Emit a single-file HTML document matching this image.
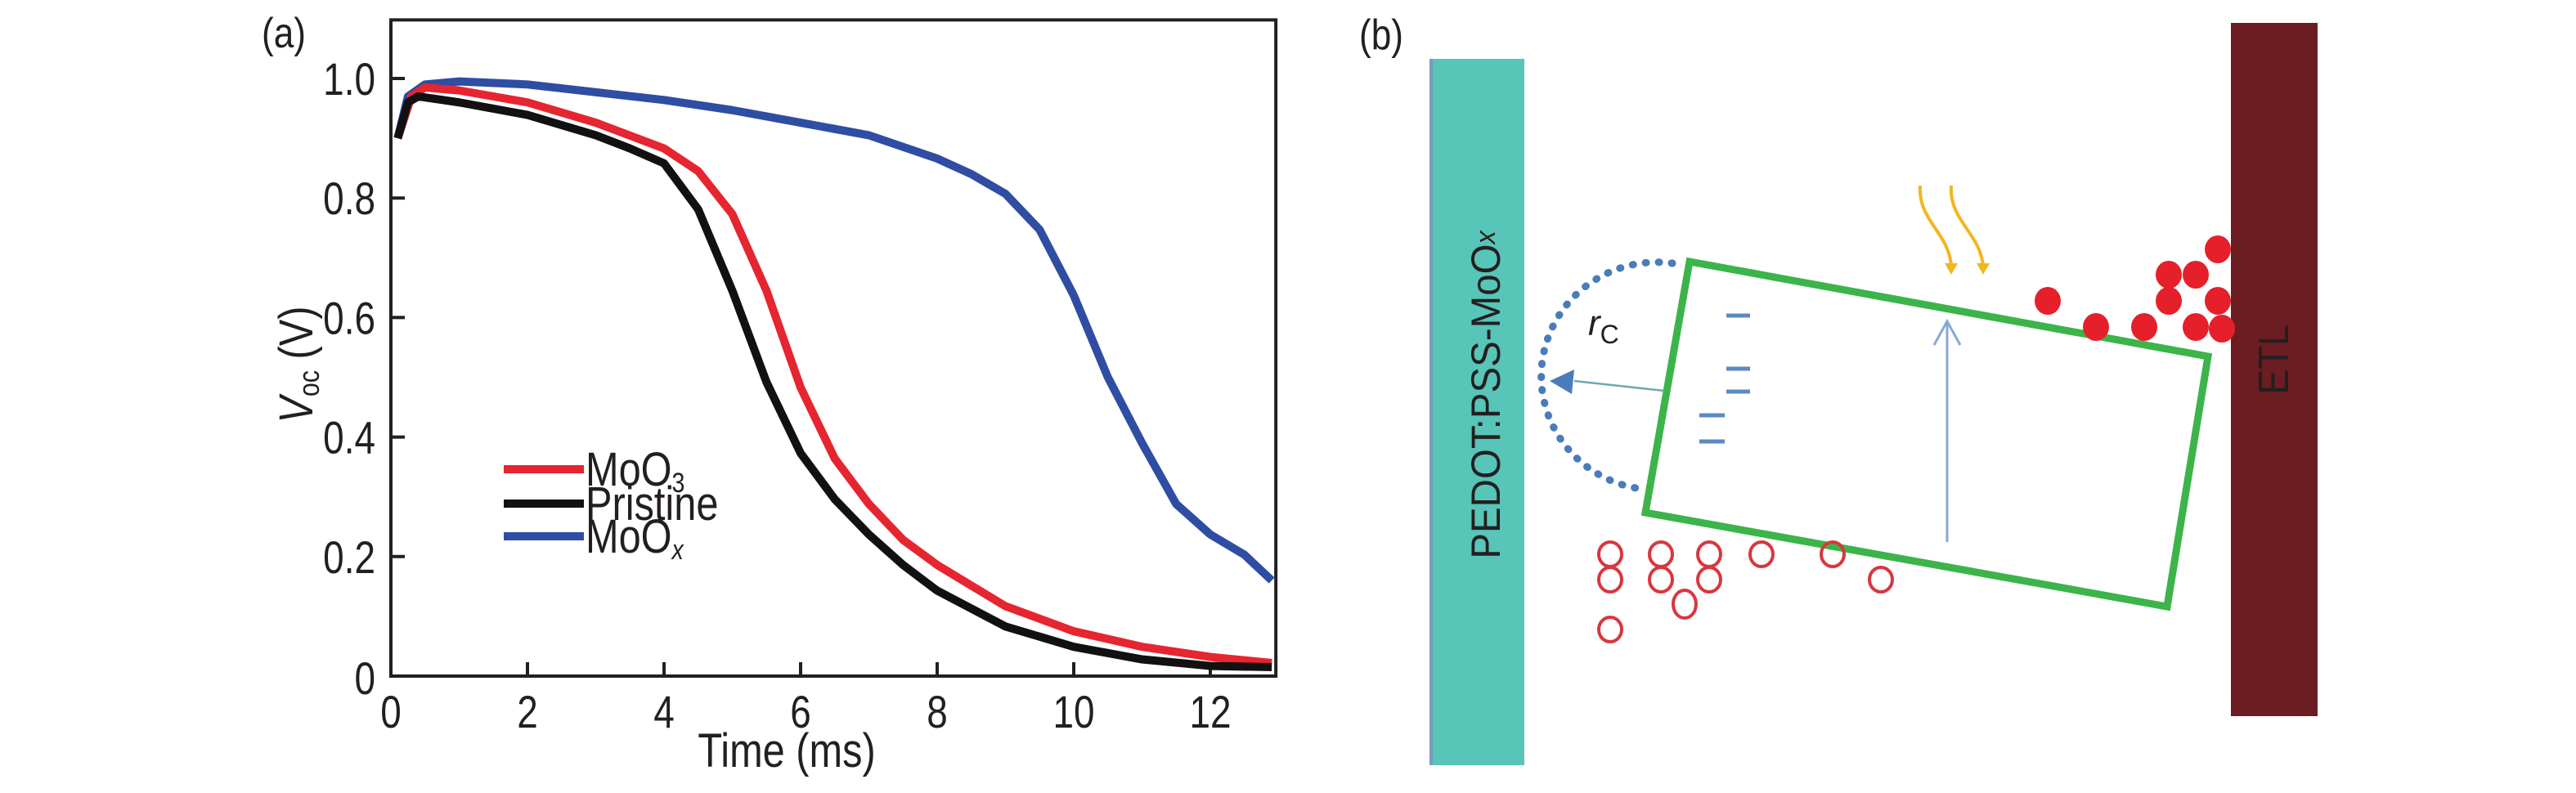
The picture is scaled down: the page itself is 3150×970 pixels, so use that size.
<!DOCTYPE html>
<html><head><meta charset="utf-8"><style>
body{margin:0;background:#fff;overflow:hidden}
svg{display:block}
text{font-family:"Liberation Sans",sans-serif;fill:#231f20}
</style></head><body>
<svg width="3150" height="970" viewBox="0 0 3150 970">
<g id="chart"></g>
<g>
  <text transform="translate(1662,60) scale(0.85,1)" font-size="52">(b)</text>
  <rect x="1750" y="72" width="114" height="864" fill="#57c5b8"/>
  <rect x="1748" y="72" width="4" height="864" fill="#7a9bbd"/>
  <text transform="translate(1834,483) rotate(-90) scale(0.95,1)" font-size="50" text-anchor="middle">PEDOT:PSS-MoO<tspan font-style="italic" font-size="34" dy="-6">x</tspan></text>
  <rect x="2728" y="28" width="106" height="848" fill="#6c1d22"/>
  <text transform="translate(2798,440) rotate(-90) scale(0.9,1)" font-size="52" text-anchor="middle">ETL</text>
  <polygon points="2066,320 2700,436 2650,742 2012,627" fill="none" stroke="#3cb44a" stroke-width="9"/>
  <path d="M2045,322 A140,138 0 0 0 2007,598" fill="none" stroke="#4a7db8" stroke-width="9" stroke-dasharray="1 15" stroke-linecap="round"/>
  <line x1="2035" y1="478" x2="1925" y2="466" stroke="#6ea8b0" stroke-width="2.5"/>
  <polygon points="1895,466 1925,452 1922,482" fill="#4a7db8"/>
  <text x="1942" y="410" font-size="44" font-style="italic">r<tspan font-style="normal" font-size="32" dy="10">C</tspan></text>
  <g stroke="#5b8ac3" stroke-width="5">
    <line x1="2111" y1="386" x2="2140" y2="386"/><line x1="2111" y1="451" x2="2140" y2="451"/><line x1="2111" y1="479" x2="2140" y2="479"/><line x1="2078" y1="508" x2="2109" y2="508"/><line x1="2078" y1="540" x2="2109" y2="540"/>
  </g>
  <line x1="2381" y1="663" x2="2381" y2="393" stroke="#8aa8d6" stroke-width="3"/>
  <polyline points="2365,422 2381,393 2397,422" fill="none" stroke="#8aa8d6" stroke-width="3"/>
  <g fill="none" stroke="#f3b61f" stroke-width="4">
    <path d="M2348,227 C2345,270 2384,285 2386,326"/><path d="M2386,227 C2383,270 2422,285 2425,326"/>
  </g>
  <polygon points="2378,322 2394,322 2386,336" fill="#f3b61f"/>
  <polygon points="2417,322 2433,322 2425,336" fill="#f3b61f"/>
  <g fill="#e5202a">
    <ellipse cx="2504" cy="368" rx="16" ry="17"/><ellipse cx="2563" cy="400" rx="16" ry="17"/><ellipse cx="2622" cy="400" rx="16" ry="17"/>
    <ellipse cx="2652" cy="336" rx="16" ry="17"/><ellipse cx="2685" cy="336" rx="16" ry="17"/><ellipse cx="2652" cy="368" rx="16" ry="17"/>
    <ellipse cx="2712" cy="368" rx="16" ry="17"/><ellipse cx="2712" cy="305" rx="16" ry="17"/><ellipse cx="2685" cy="400" rx="16" ry="17"/><ellipse cx="2717" cy="402" rx="16" ry="17"/>
  </g>
  <g fill="none" stroke="#d9363e" stroke-width="4">
    <ellipse cx="1969" cy="678" rx="14" ry="15"/><ellipse cx="1969" cy="709" rx="14" ry="15"/><ellipse cx="2031" cy="678" rx="14" ry="15"/><ellipse cx="2031" cy="709" rx="14" ry="15"/>
    <ellipse cx="2090" cy="678" rx="14" ry="15"/><ellipse cx="2090" cy="709" rx="14" ry="15"/><ellipse cx="2154" cy="678" rx="14" ry="15"/><ellipse cx="2241" cy="678" rx="14" ry="15"/>
    <ellipse cx="2060" cy="739" rx="14" ry="17"/><ellipse cx="2300" cy="709" rx="14" ry="15"/><ellipse cx="1969" cy="770" rx="14" ry="15"/>
  </g>
</g>
</svg>
<script>
const timeRed=[0.1,0.3,0.5,1,2,3,4,4.5,5,5.5,6,6.5,7,7.5,8,9,10,11,12,12.9];
const vRed=[0.9,0.97,0.985,0.98,0.96,0.926,0.883,0.845,0.773,0.645,0.483,0.364,0.288,0.228,0.186,0.117,0.075,0.049,0.032,0.022];
const timeBlack=[0.1,0.25,0.4,1,2,3,3.5,4,4.5,5,5.5,6,6.5,7,7.5,8,9,10,11,12,12.9];
const vBlack=[0.9,0.96,0.97,0.96,0.939,0.905,0.883,0.858,0.781,0.645,0.492,0.373,0.296,0.237,0.186,0.143,0.083,0.049,0.028,0.017,0.015];
const timeBlue=[0.1,0.25,0.5,1,2,3,4,5,6,7,8,8.5,9,9.5,10,10.5,11,11.5,12,12.5,12.9];
const vBlue=[0.9,0.97,0.99,0.995,0.99,0.977,0.964,0.947,0.926,0.905,0.866,0.84,0.807,0.747,0.637,0.5,0.39,0.288,0.237,0.203,0.16];
const xTicks=[0,2,4,6,8,10,12];
const yTicks=[0,0.2,0.4,0.6,0.8,1.0];
const yTickLabels=["0","0.2","0.4","0.6","0.8","1.0"];
const NS='http://www.w3.org/2000/svg';
const X0=478,XS=83.5,Y0=827,YS=731;
const sx=v=>X0+v*XS, sy=v=>Y0-v*YS;
const g=document.getElementById('chart');
function mk(t,a){const e=document.createElementNS(NS,t);for(const k in a)e.setAttribute(k,a[k]);g.appendChild(e);return e;}
const frame=mk('rect',{x:sx(0),y:sy(1.098),width:sx(12.96)-sx(0),height:sy(0)-sy(1.098),fill:'none',stroke:'#231f20','stroke-width':4});


xTicks.forEach(t=>{
 const l=mk('line',{x1:sx(t),x2:sx(t),y1:Y0,y2:Y0-17,stroke:'#231f20','stroke-width':4});
 
 
 const tx=mk('text',{transform:'translate('+sx(t)+',890) scale(0.82,1)','font-size':56,'text-anchor':'middle'});tx.textContent=t;
 
 
});
yTicks.forEach((t,i)=>{
 const l=mk('line',{x1:X0,x2:X0+17,y1:sy(t),y2:sy(t),stroke:'#231f20','stroke-width':4});
 
 
 const tx=mk('text',{transform:'translate(459,'+(sy(t)+(t===0?22:20))+') scale(0.82,1)','font-size':56,'text-anchor':'end'});tx.textContent=yTickLabels[i];
 
 
});
function series(xs,ys,col,name){
 const p=mk('polyline',{points:xs.map((x,i)=>sx(x)+','+sy(ys[i])).join(' '),fill:'none',stroke:col,'stroke-width':10,'stroke-linejoin':'round'});
 
 
}
series(timeBlue,vBlue,'#2e4da3','series-moox');
series(timeRed,vRed,'#e52530','series-moo3');
series(timeBlack,vBlack,'#111','series-pristine');
const leg=[['#e52530','MoO','3',574],['#111','Pristine','',616],['#2e4da3','MoO','x',656]];
leg.forEach(d=>{
 const l=mk('line',{x1:616,x2:714,y1:d[3],y2:d[3],stroke:d[0],'stroke-width':10});
 
 
 const t=mk('text',{transform:'translate(716,'+(d[3]+20)+') scale(0.84,1)','font-size':58});
 
 
 t.textContent=d[1];
 if(d[2]){const s=document.createElementNS(NS,'tspan');s.setAttribute('font-size','34');s.setAttribute('dy','8');if(d[2]==='x')s.setAttribute('font-style','italic');s.textContent=d[2];t.appendChild(s);}
});
const xl=mk('text',{transform:'translate(962,938) scale(0.84,1)','font-size':58,'text-anchor':'middle'});xl.textContent='Time (ms)';


const yl=mk('text',{transform:'translate(382,446) rotate(-90) scale(0.84,1)','font-size':58,'text-anchor':'middle'});


yl.innerHTML='<tspan font-style="italic">V</tspan><tspan font-size="36" dy="8">oc</tspan><tspan dy="-8"> (V)</tspan>';
const pa=mk('text',{transform:'translate(320,58) scale(0.85,1)','font-size':52});pa.textContent='(a)';


</script>
</body></html>
